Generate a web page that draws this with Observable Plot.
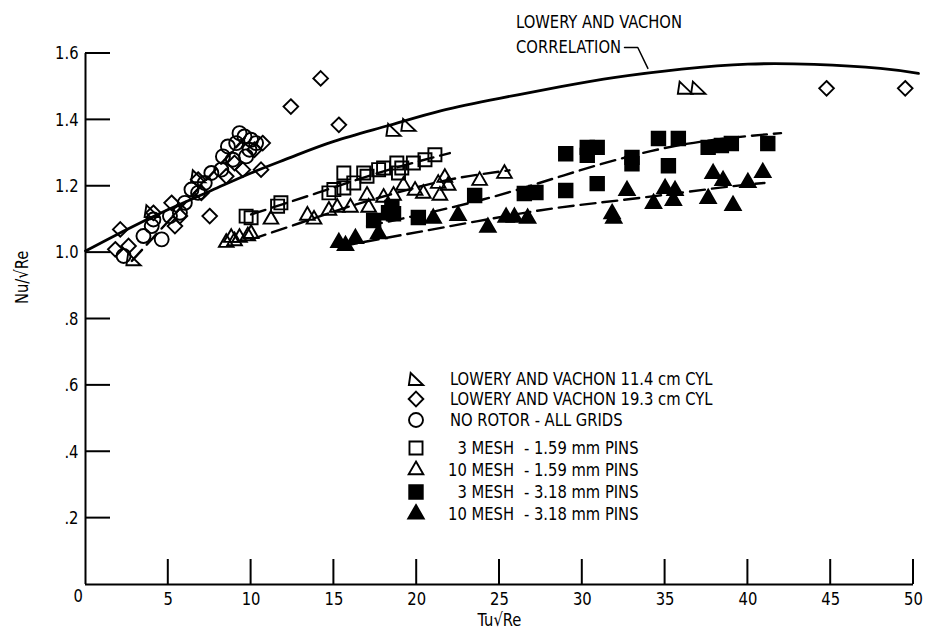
<!DOCTYPE html>
<html>
<head>
<meta charset="utf-8">
<script src="https://cdn.jsdelivr.net/npm/d3@7"></script>
<script src="https://cdn.jsdelivr.net/npm/@observablehq/plot@0.6"></script>
<style>
  body { margin: 0; background: #fff; }
  #chart { position: relative; width: 927px; height: 635px; }
</style>
</head>
<body>
<div id="chart"></div>
<script>
// ---------- data ----------
const xTicks = [0, 5, 10, 15, 20, 25, 30, 35, 40, 45, 50];
const yTicks = [0, 0.2, 0.4, 0.6, 0.8, 1.0, 1.2, 1.4, 1.6];

// Lowery and Vachon 11.4 cm cylinder (right triangles)
const lv114 = [[2.9,0.98],[4.0,1.125],[6.8,1.23],[18.6,1.37],[19.5,1.385],[36.2,1.497],[37.0,1.497]];
// Lowery and Vachon 19.3 cm cylinder (diamonds)
const lv193 = [[1.8,1.01],[2.1,1.07],[2.6,1.02],[4.1,1.12],[5.2,1.15],[5.4,1.08],[5.7,1.11],[6.8,1.22],[7.0,1.18],[7.5,1.11],[8.5,1.23],[9.0,1.27],[9.5,1.25],[10.2,1.31],[10.7,1.33],[10.6,1.25],[12.4,1.44],[14.2,1.525],[15.3,1.385],[44.75,1.495],[49.5,1.495]];
// No rotor - all grids (circles)
const noRotor = [[2.3,0.99],[3.5,1.05],[4.0,1.08],[4.1,1.10],[4.6,1.04],[5.1,1.11],[5.7,1.12],[6.0,1.15],[6.4,1.19],[6.8,1.18],[7.2,1.21],[7.6,1.24],[8.2,1.25],[8.3,1.29],[8.6,1.32],[8.9,1.28],[9.1,1.33],[9.3,1.36],[9.6,1.35],[9.7,1.29],[10.0,1.34],[10.3,1.33],[9.9,1.31]];
// 3 mesh - 1.59 mm pins (open squares)
const mesh3pin159 = [[9.7,1.11],[10.0,1.105],[11.6,1.14],[11.8,1.15],[14.7,1.18],[15.0,1.19],[15.6,1.195],[15.6,1.24],[16.2,1.21],[16.8,1.24],[17.0,1.23],[17.7,1.25],[18.0,1.255],[18.8,1.27],[18.9,1.24],[19.1,1.255],[19.8,1.27],[20.5,1.28],[21.1,1.295]];
// 10 mesh - 1.59 mm pins (open triangles)
const mesh10pin159 = [[8.5,1.03],[8.8,1.045],[9.0,1.035],[9.3,1.045],[9.8,1.05],[10.0,1.057],[11.2,1.10],[13.4,1.112],[13.8,1.10],[14.7,1.127],[15.2,1.136],[16.0,1.136],[17.0,1.172],[17.1,1.136],[18.0,1.166],[18.6,1.172],[19.2,1.202],[19.9,1.187],[20.4,1.178],[21.3,1.208],[21.4,1.172],[21.7,1.226],[21.9,1.202],[23.8,1.217],[25.3,1.238]];
// 3 mesh - 3.18 mm pins (filled squares)
const mesh3pin318 = [[17.4,1.097],[18.3,1.12],[18.6,1.117],[18.5,1.136],[20.1,1.106],[23.5,1.172],[26.5,1.178],[27.2,1.181],[29.0,1.187],[30.9,1.208],[29.0,1.298],[30.3,1.317],[30.9,1.317],[30.3,1.293],[33.0,1.287],[33.0,1.268],[35.2,1.262],[34.6,1.344],[35.8,1.344],[37.6,1.317],[38.4,1.323],[39.0,1.329],[41.2,1.329]];
// 10 mesh - 3.18 mm pins (filled triangles)
const mesh10pin318 = [[15.3,1.03],[15.7,1.021],[16.3,1.042],[17.7,1.057],[21.0,1.103],[22.5,1.112],[24.3,1.076],[25.4,1.106],[25.9,1.106],[26.7,1.103],[31.8,1.117],[31.9,1.103],[32.7,1.187],[34.3,1.148],[35.0,1.193],[35.6,1.187],[35.5,1.157],[37.6,1.163],[37.9,1.238],[38.5,1.217],[39.1,1.142],[40.0,1.211],[40.9,1.241]];

// Lowery and Vachon correlation (solid)
const correlation = [[0,1.005],[2.5,1.07],[5,1.13],[7.6,1.187],[10,1.24],[12.4,1.287],[15,1.335],[18.3,1.383],[21.5,1.428],[25,1.465],[28.7,1.5],[32,1.528],[36,1.553],[40,1.568],[44,1.567],[48,1.555],[50.3,1.54]];
// fitted (dashed) curves
const fitNoRotor = [[2.8,0.975],[9.6,1.345]];
const fitMesh3pin159 = [[10,1.115],[14,1.18],[18,1.245],[22,1.30]];
const fitMesh10pin159 = [[10,1.04],[13,1.09],[16,1.14],[19.5,1.19],[22.5,1.225],[25.6,1.248]];
const fitMesh3pin318 = [[17,1.08],[24,1.16],[30,1.25],[36,1.325],[42,1.36]];
const fitMesh10pin318 = [[15.5,1.02],[23.7,1.095],[28.5,1.135],[33.5,1.165],[38.2,1.195],[41,1.21]];

// annotation
const annotationLines = ["LOWERY AND VACHON", "CORRELATION"];
const annotationX = 26.0;
const annotationY = [1.695, 1.62];
const leader = [[32.55,1.618],[33.35,1.618],[33.96,1.555]];

// legend
const legendLabels = ["LOWERY AND VACHON 11.4 cm CYL", "LOWERY AND VACHON 19.3 cm CYL", "NO ROTOR - ALL GRIDS"];
const legendMesh = ["3 MESH", "10 MESH", "3 MESH", "10 MESH"];
const legendPins = ["- 1.59 mm PINS", "- 1.59 mm PINS", "- 3.18 mm PINS", "- 3.18 mm PINS"];

const xTitle = "Tu\u221ARe";
const yTitle = "Nu/\u221ARe";

// ---------- drawing ----------
const FONT = '"DejaVu Sans Condensed","Liberation Sans Narrow","DejaVu Sans",sans-serif';
const CONDENSE = 0.91;

const rightTriangle = {
  draw(ctx, size) {
    const r = Math.sqrt(size / Math.PI);
    const w = r * 0.95, h = r * 0.8;
    ctx.moveTo(-w * 0.75, -h);
    ctx.lineTo(w, h);
    ctx.lineTo(-w, h);
    ctx.closePath();
  }
};

const dotOpts = (sym, r, filled) => ({
  x: d => d[0], y: d => d[1], symbol: sym, r,
  stroke: "black", strokeWidth: 1.9, fill: filled ? "black" : "none"
});
const lineOpts = (dashed, curve) => ({
  x: d => d[0], y: d => d[1], stroke: "black", strokeWidth: dashed ? 2.4 : 2.8,
  curve, strokeDasharray: dashed ? "15,7" : null
});

const fmtY = d => d >= 1 ? d.toFixed(1) : "." + Math.round(d * 10);

const plot = Plot.plot({
  width: 927, height: 635,
  marginLeft: 85, marginRight: 14, marginTop: 53, marginBottom: 51,
  x: {domain: [0, 50], label: null},
  y: {domain: [0, 1.6], label: null},
  style: {fontFamily: FONT, fontSize: "18px", color: "black", background: "white", overflow: "visible"},
  marks: [
    Plot.axisX({ticks: xTicks.filter(d => d > 0), tickSize: 0, tickPadding: 8, tickFormat: d => String(d), fontSize: 18, label: null}),
    Plot.axisY({ticks: yTicks.filter(d => d > 0), tickSize: 0, tickPadding: 7, tickFormat: fmtY, fontSize: 18, label: null}),
    Plot.text(["0"], {frameAnchor: "bottom-left", dx: -12, dy: 17, fontSize: 18}),
    Plot.ruleX([0], {strokeWidth: 2}),
    Plot.ruleY([0], {strokeWidth: 2}),
    Plot.text([yTitle], {frameAnchor: "left", dx: -63, dy: -15, rotate: -90, fontSize: 18}),
    Plot.text([xTitle], {frameAnchor: "bottom", dy: 41, fontSize: 18}),
    Plot.line(correlation, lineOpts(false, "natural")),
    Plot.line(fitNoRotor, lineOpts(true, "linear")),
    Plot.line(fitMesh3pin159, lineOpts(true, "natural")),
    Plot.line(fitMesh10pin159, lineOpts(true, "natural")),
    Plot.line(fitMesh3pin318, lineOpts(true, "natural")),
    Plot.line(fitMesh10pin318, lineOpts(true, "natural")),
    Plot.text(annotationLines, {x: annotationX, y: (d, i) => annotationY[i], text: d => d, textAnchor: "start", fontSize: 18}),
    Plot.line(leader, {x: d => d[0], y: d => d[1], stroke: "black", strokeWidth: 1.5}),
    Plot.dot(noRotor, dotOpts("circle", 7, false)),
    Plot.dot(lv193, dotOpts("diamond2", 6.6, false)),
    Plot.dot(lv114, dotOpts(rightTriangle, 7.5, false)),
    Plot.dot(mesh3pin159, dotOpts("square2", 8.3, false)),
    Plot.dot(mesh10pin159, dotOpts("triangle2", 7, false)),
    Plot.dot(mesh3pin318, dotOpts("square2", 8.6, true)),
    Plot.dot(mesh10pin318, dotOpts("triangle2", 7.4, true))
  ]
});

const svgEl = plot.tagName.toLowerCase() === "svg" ? plot : plot.querySelector("svg");
const svg = d3.select(svgEl);
const sx = plot.scale("x"), sy = plot.scale("y");

// inward tick marks
const TICK = 25;
const tg = svg.append("g").attr("stroke", "black").attr("stroke-width", 2);
xTicks.filter(d => d > 0).forEach(t => {
  tg.append("line").attr("x1", sx.apply(t)).attr("x2", sx.apply(t))
    .attr("y1", sy.apply(0)).attr("y2", sy.apply(0) - TICK);
});
yTicks.filter(d => d > 0).forEach(t => {
  tg.append("line").attr("x1", sx.apply(0)).attr("x2", sx.apply(0) + TICK)
    .attr("y1", sy.apply(t)).attr("y2", sy.apply(t));
});

// legend
const lg = svg.append("g").attr("font-family", FONT).attr("font-size", 18).attr("fill", "black").attr("text-anchor", "start");
const symX = 416, txtX = 450, meshEnd = 514, pinsX = 524;
const rows = [379, 399, 420, 448, 470, 492, 514];
const legendSymbols = [
  [rightTriangle, 7.5, false], ["diamond2", 6.6, false], ["circle", 7, false],
  ["square2", 8.3, false], ["triangle2", 7, false], ["square2", 8.6, true], ["triangle2", 7.4, true]
];
const symMap = {circle: d3.symbolCircle, diamond2: d3.symbolDiamond2, square2: d3.symbolSquare2, triangle2: d3.symbolTriangle2};
legendSymbols.forEach(([s, r, f], i) => {
  const type = typeof s === "string" ? symMap[s] : s;
  lg.append("path").attr("d", d3.symbol(type, Math.PI * r * r)())
    .attr("transform", `translate(${symX},${rows[i]})`)
    .attr("stroke", "black").attr("stroke-width", 1.9).attr("fill", f ? "black" : "none");
});
legendLabels.forEach((t, i) => {
  lg.append("text").attr("x", txtX).attr("y", rows[i]).attr("dy", "0.35em").attr("text-anchor", "start").text(t);
});
legendMesh.forEach((t, i) => {
  lg.append("text").attr("x", meshEnd).attr("y", rows[i + 3]).attr("dy", "0.35em").attr("text-anchor", "end").text(t);
  lg.append("text").attr("x", pinsX).attr("y", rows[i + 3]).attr("dy", "0.35em").attr("text-anchor", "start").text(legendPins[i]);
});

document.getElementById("chart").appendChild(plot);

// condense all texts (the original uses a narrow typeface)
svg.selectAll("text").each(function() {
  const L = this.getComputedTextLength();
  if (L > 0) {
    this.setAttribute("textLength", (L * CONDENSE).toFixed(1));
    this.setAttribute("lengthAdjust", "spacingAndGlyphs");
  }
});
</script>
</body>
</html>
